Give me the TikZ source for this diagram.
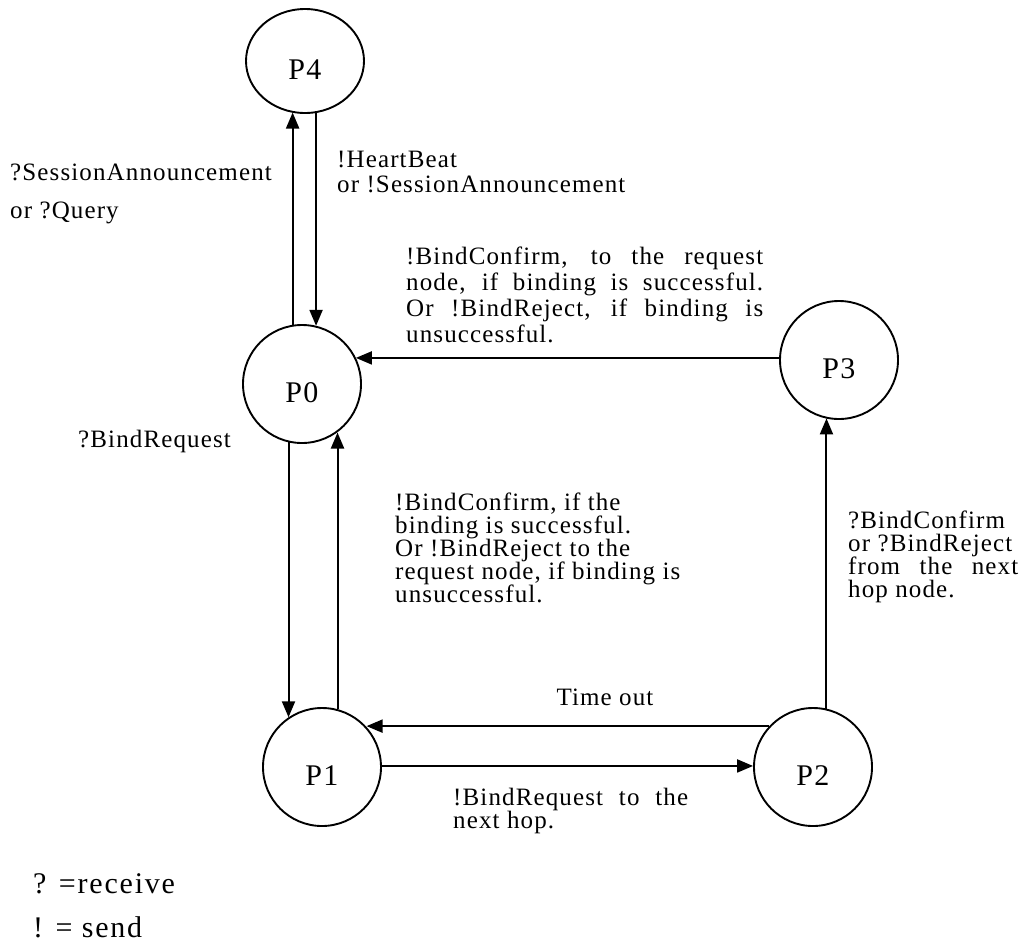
\documentclass[tikz,border=0pt]{standalone}
\usepackage{fontspec}
\setmainfont{Liberation Serif}
\newfontfamily\lblfont[LetterSpace=4.5]{Liberation Serif}
\newfontfamily\keyfont[LetterSpace=6]{Liberation Serif}
\usetikzlibrary{arrows.meta,shapes.geometric}
\begin{document}
\begin{tikzpicture}[x=1pt,y=-1pt,
  state/.style={draw, line width=1.9pt, circle, minimum size=118pt, inner sep=0pt,
    text height=36pt, text depth=0pt, font=\lblfont\fontsize{30}{30}\selectfont},
  trans/.style={line width=2pt, -{Triangle[length=16pt,width=13pt]}},
  lbl/.style={inner sep=0pt, anchor=base west, align=left,
    font=\lblfont\fontsize{25}{25}\selectfont},
  legend/.style={inner sep=0pt, anchor=base west, font=\keyfont\fontsize{30}{30}\selectfont},
]
\useasboundingbox (0,0) rectangle (1025,943);

% states
\node[state, ellipse, minimum width=118pt, minimum height=104pt] (p4) at (305,61) {P4};
\node[state] (p0) at (302,384) {P0};
\node[state] (p3) at (839,360) {P3};
\node[state] (p1) at (322,767) {P1};
\node[state] (p2) at (813,767) {P2};

% transitions
\draw[trans] (p0.99.8) -- (p0.99.8 |- p4.255.3);
\draw[trans] (p4.282.4) -- (p4.282.4 |- p0.76.3);
\draw[trans] (p3.178.1) -- (p3.178.1 -| p0.26.1);
\draw[trans] (p0.257.3) -- (p0.257.3 |- p1.124);
\draw[trans] (p1.75.3) -- (p1.75.3 |- p0.306.4);
\draw[trans] (p2.137.3) -- (p2.137.3 -| p1.42.7);
\draw[trans] (p1.1.9) -- (p1.1.9 -| p2.178.1);
\draw[trans] (p2.77.3) -- (p2.77.3 |- p3.257.3);

% transition labels (each node's base is its last line)
\node[lbl] (l40) at (10,218) {?SessionAnnouncement\\[13pt]or ?Query};
\node[lbl] (l04) at (337,192) {!HeartBeat\\or !SessionAnnouncement};
\node[lbl, font=\lblfont\fontsize{25}{26}\selectfont] (l30) at (406,342)
  {\makebox[357pt][s]{!BindConfirm, to the request}\\
   \makebox[357pt][s]{node, if binding is successful.}\\
   \makebox[357pt][s]{Or !BindReject, if binding is}\\
   unsuccessful.};
\node[lbl] (l01) at (78,447) {?BindRequest};
\node[lbl, font=\lblfont\fontsize{25}{23}\selectfont] (l10) at (395,602)
  {!BindConfirm, if the\\binding is successful.\\
   Or !BindReject to the\\request node, if binding is\\unsuccessful.};
\node[lbl, font=\lblfont\fontsize{25}{23}\selectfont] (l23) at (848,597)
  {?BindConfirm\\or ?BindReject\\
   \makebox[170pt][s]{from the next}\\hop node.};
\node[lbl, anchor=base] (l21) at (605,705) {Time out};
\node[lbl, font=\lblfont\fontsize{25}{23}\selectfont] (l12) at (453,828)
  {\makebox[235pt][s]{!BindRequest to the}\\next hop.};

% legend
\node[legend] (k1) at (33,893) {? =receive};
\node[legend] (k2) at (33,937) {! = send};
\end{tikzpicture}
\end{document}
